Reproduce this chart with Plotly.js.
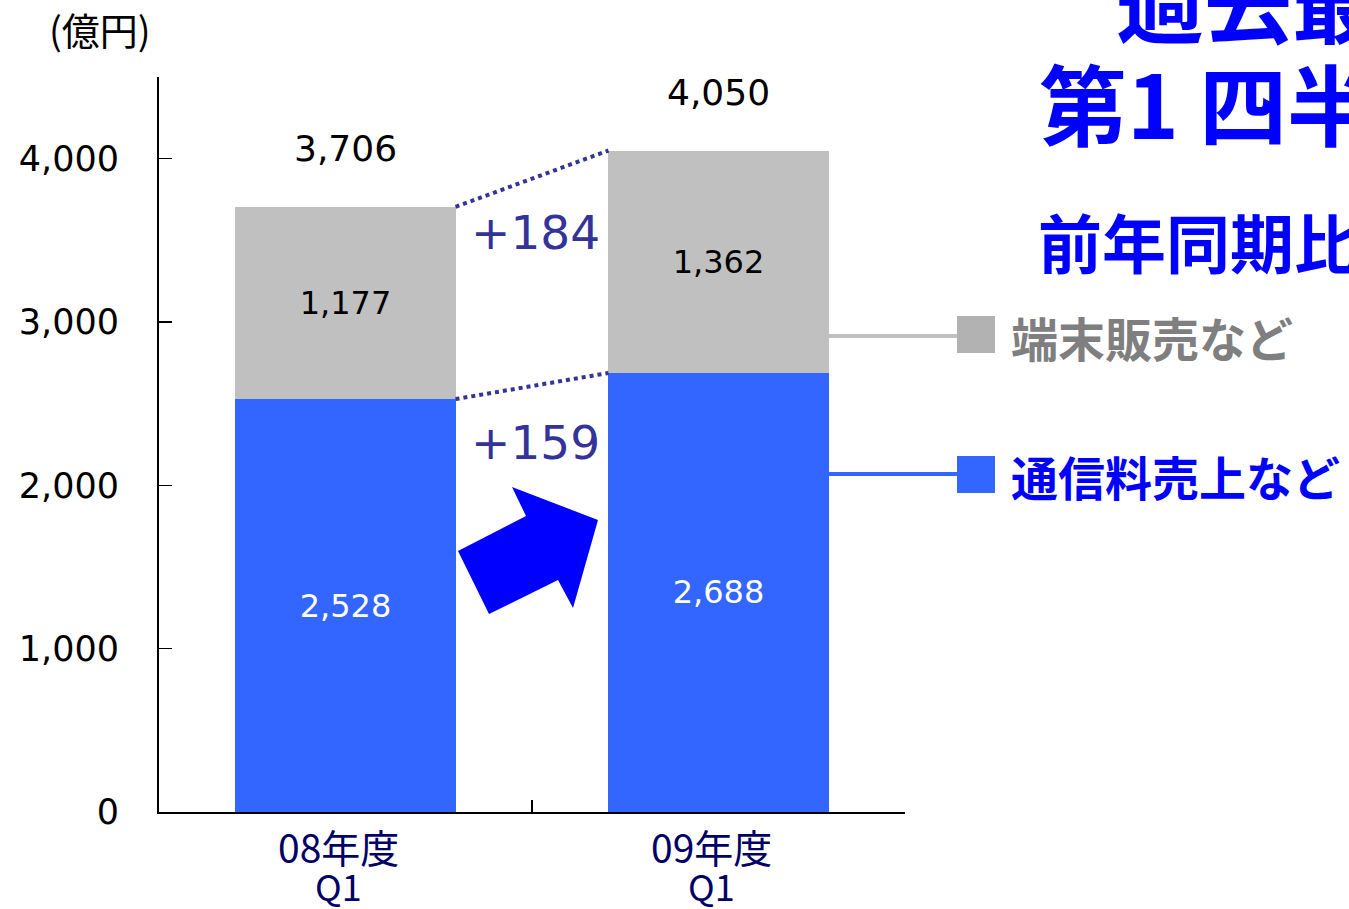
<!DOCTYPE html>
<html>
<head>
<meta charset="utf-8">
<script src="https://cdn.plot.ly/plotly-3.0.1.min.js"></script>
<style>html,body{margin:0;padding:0;background:#fff;overflow:hidden}#chart{width:1349px;height:909px}</style>
</head>
<body>
<div id="chart"></div>
<script>
// ---- data ----
const categories = ['08年度 Q1', '09年度 Q1'];
const catLine1 = ['08年度', '09年度'];
const catLine2 = ['Q1', 'Q1'];
const serviceRevenue = [2528, 2688];   // 通信料売上など
const handsetSales = [1177, 1362];     // 端末販売など
const totals = [3706, 4050];
const diffLabels = ['+184', '+159'];   // upper (端末), lower (通信料)
const yTicks = [0, 1000, 2000, 3000, 4000];
const legendNames = ['端末販売など', '通信料売上など'];
const headline = ['過去最', '第1 四半', '前年同期比'];
const unitLabel = '(億円)';

// ---- layout helpers (plot area in pixels) ----
const W = 1349, H = 909;
const M = {l: 159, r: 444, t: 77, b: 97};
const PW = W - M.l - M.r, PH = H - M.t - M.b;
const px = x => (x - M.l) / PW;
const py = y => (H - M.b - y) / PH;

const BAR_W = 0.59;
const num = 'DejaVu Sans, sans-serif';
const jp = 'Noto Sans CJK JP, sans-serif';
const fmt = v => v.toLocaleString('en-US');

const traces = [
  {
    type: 'bar', x: categories, y: serviceRevenue, width: BAR_W,
    marker: {color: '#3366FF'},
    text: serviceRevenue.map(fmt),
    textposition: 'inside', insidetextanchor: 'middle', textangle: 0,
    textfont: {family: num, size: 32, color: '#FFFFFF'},
    hoverinfo: 'skip', cliponaxis: false
  },
  {
    type: 'bar', x: categories, y: handsetSales, width: BAR_W,
    marker: {color: '#C0C0C0'},
    text: handsetSales.map(fmt),
    textposition: 'inside', insidetextanchor: 'middle', textangle: 0,
    textfont: {family: num, size: 32, color: '#000000'},
    hoverinfo: 'skip', cliponaxis: false
  }
];

const tops = serviceRevenue.map((v, i) => v + handsetSales[i]);
const half = BAR_W / 2;

const shapes = [
  // dotted connectors between bar tops
  {type: 'line', xref: 'x', yref: 'y', x0: half, x1: 1 - half, y0: tops[0], y1: tops[1],
   line: {color: '#333399', width: 4, dash: 'dot'}},
  {type: 'line', xref: 'x', yref: 'y', x0: half, x1: 1 - half, y0: serviceRevenue[0], y1: serviceRevenue[1],
   line: {color: '#333399', width: 4, dash: 'dot'}},
  // legend connectors
  {type: 'line', xref: 'paper', yref: 'paper', x0: px(824), x1: px(958), y0: py(336), y1: py(336),
   line: {color: '#C0C0C0', width: 4}},
  {type: 'line', xref: 'paper', yref: 'paper', x0: px(827), x1: px(958), y0: py(474), y1: py(474),
   line: {color: '#3366FF', width: 4}},
  // legend squares
  {type: 'rect', xref: 'paper', yref: 'paper', x0: px(957), x1: px(995), y0: py(353), y1: py(316),
   fillcolor: '#B2B2B2', line: {width: 0}},
  {type: 'rect', xref: 'paper', yref: 'paper', x0: px(957), x1: px(995), y0: py(493), y1: py(456),
   fillcolor: '#3366FF', line: {width: 0}}
];

// big arrow (decoration)
const arrowPts = [[489,614],[458,551],[526,516],[512,487],[598,520],[573,608],[558,580]];
shapes.push({
  type: 'path', xref: 'paper', yref: 'paper',
  path: 'M' + arrowPts.map(p => px(p[0]).toFixed(5) + ',' + py(p[1]).toFixed(5)).join(' L') + ' Z',
  fillcolor: '#0000FF', line: {width: 0}
});

const annotations = [];
// category labels (two lines each)
categories.forEach((c, i) => {
  annotations.push({
    x: i - 0.02, y: 0, xref: 'x', yref: 'y', text: catLine1[i],
    showarrow: false, yanchor: 'middle', yshift: -34, borderpad: 0,
    font: {family: jp, size: 39, color: '#000066'}
  });
  annotations.push({
    x: i - 0.02, y: 0, xref: 'x', yref: 'y', text: catLine2[i],
    showarrow: false, yanchor: 'middle', yshift: -73, borderpad: 0,
    font: {family: jp, size: 36, color: '#000066'}
  });
});
// totals above bars
totals.forEach((t, i) => annotations.push({
  x: i, y: tops[i], xref: 'x', yref: 'y', text: fmt(t),
  showarrow: false, yanchor: 'middle', yshift: 58,
  font: {family: num, size: 36, color: '#000000'}
}));
// diff labels
annotations.push({
  x: 0.51, y: (tops[0] + tops[1]) / 2, xref: 'x', yref: 'y', text: diffLabels[0],
  showarrow: false, yanchor: 'middle', yshift: -54,
  font: {family: num, size: 47, color: '#333399'}
});
annotations.push({
  x: 0.51, y: (serviceRevenue[0] + serviceRevenue[1]) / 2, xref: 'x', yref: 'y', text: diffLabels[1],
  showarrow: false, yanchor: 'middle', yshift: -56,
  font: {family: num, size: 47, color: '#333399'}
});
// unit
annotations.push({
  x: px(100), y: py(28), xref: 'paper', yref: 'paper', text: unitLabel,
  showarrow: false, xanchor: 'center', yanchor: 'middle',
  font: {family: jp, size: 38, color: '#000000'}
});
// legend texts
annotations.push({
  x: px(1009), y: py(336), xref: 'paper', yref: 'paper', text: '<b>' + legendNames[0] + '</b>',
  showarrow: false, xanchor: 'left', yanchor: 'middle',
  font: {family: jp, size: 47, color: '#7F7F7F'}
});
annotations.push({
  x: px(1009), y: py(475), xref: 'paper', yref: 'paper', text: '<b>' + legendNames[1] + '</b>',
  showarrow: false, xanchor: 'left', yanchor: 'middle',
  font: {family: jp, size: 47, color: '#0000FF'}
});
// headline texts (cut off at right edge, as in the original slide)
annotations.push({
  x: px(1114), y: py(-2), xref: 'paper', yref: 'paper', text: '<b>' + headline[0] + '</b>',
  showarrow: false, xanchor: 'left', yanchor: 'middle',
  font: {family: jp, size: 88, color: '#0000FF'}
});
annotations.push({
  x: px(1037), y: py(101), xref: 'paper', yref: 'paper', text: '<b>' + headline[1] + '</b>',
  showarrow: false, xanchor: 'left', yanchor: 'middle',
  font: {family: jp, size: 88, color: '#0000FF'}
});
annotations.push({
  x: px(1036), y: py(240), xref: 'paper', yref: 'paper', text: '<b>' + headline[2] + '</b>',
  showarrow: false, xanchor: 'left', yanchor: 'middle',
  font: {family: jp, size: 64, color: '#0000FF'}
});

const layout = {
  width: W, height: H,
  margin: M,
  paper_bgcolor: '#FFFFFF', plot_bgcolor: '#FFFFFF',
  barmode: 'stack', showlegend: false,
  xaxis: {
    type: 'category', range: [-0.5, 1.5],
    showline: true, linecolor: '#000000', linewidth: 2,
    ticks: 'inside', tickson: 'boundaries', ticklen: 12, tickwidth: 1.5, tickcolor: '#000000',
    showticklabels: false,
    showgrid: false, zeroline: false, fixedrange: true
  },
  yaxis: {
    range: [0, 4500], tickvals: yTicks, ticktext: yTicks.map(fmt),
    showline: true, linecolor: '#000000', linewidth: 2,
    ticks: 'inside', ticklen: 13, tickwidth: 1.5, tickcolor: '#000000',
    ticklabelstandoff: 31,
    tickfont: {family: num, size: 35, color: '#000000'},
    showgrid: false, zeroline: false, fixedrange: true
  },
  shapes: shapes,
  annotations: annotations
};

Plotly.newPlot('chart', traces, layout, {displayModeBar: false, staticPlot: true});
</script>
</body>
</html>
